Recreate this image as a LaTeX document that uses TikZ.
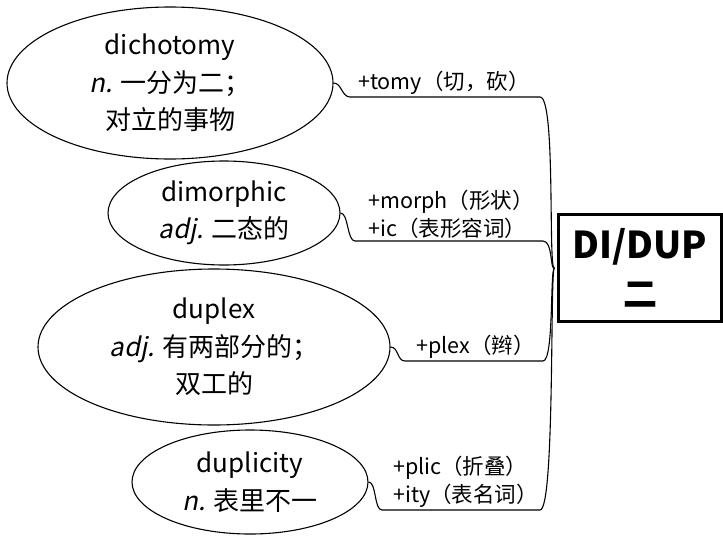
\documentclass[tikz,border=0pt]{standalone}
\usepackage{fontspec}
\setmainfont{Noto Sans CJK SC}[ItalicFont=Noto Sans CJK SC, ItalicFeatures={FakeSlant=0.2}]
\usetikzlibrary{shapes.geometric}

\begin{document}
\begin{tikzpicture}[x=1pt, y=-1pt,
    word node/.style={ellipse, draw, line width=1.1pt, inner sep=-8pt, align=center, font=\fontsize{26}{37.5}\selectfont},
    affix/.style={anchor=south west, inner sep=2pt, align=left, font=\fontsize{21.5}{28}\selectfont},
    branch/.style={line width=1.1pt}]

    \useasboundingbox (0,0) rectangle (723,536);

    % racine
    \node[draw, line width=2.4pt, minimum width=163pt, minimum height=107pt, align=center,
          font=\fontsize{37}{48}\bfseries\selectfont] (root) at (640,268)
        {DI/DUP\\{\fontsize{34}{48}\selectfont 二}};
    \coordinate (hub) at ([xshift=-3pt]root.west);

    % les mots
    \node[word node, minimum width=326pt, minimum height=152pt] (dicho) at (170,83)
        {dichotomy\\\textit{n.} 一分为二；\\对立的事物};
    \node[word node, minimum width=232pt, minimum height=104pt] (dimor) at (224,213)
        {dimorphic\\\textit{adj.} 二态的};
    \node[word node, minimum width=352pt, minimum height=156pt] (duplex) at (214,347)
        {duplex\\\textit{adj.} 有两部分的；\\双工的};
    \node[word node, minimum width=236pt, minimum height=104pt] (dupli) at (250,482)
        {duplicity\\\textit{n.} 表里不一};

    % soulignements
    \coordinate (a1) at (350,97);  \coordinate (a2) at (540,97);
    \coordinate (b1) at (355,241); \coordinate (b2) at (543,241);
    \coordinate (c1) at (405,361); \coordinate (c2) at (543,361);
    \coordinate (d1) at (382,510); \coordinate (d2) at (540,510);

    \node[affix] at ([xshift=6pt]a1) {+tomy（切，砍）};
    \node[affix] at ([xshift=11pt]b1) {+morph（形状）\\+ic（表形容词）};
    \node[affix] at ([xshift=9pt]c1) {+plex（辫）};
    \node[affix] at ([xshift=9pt]d1) {+plic（折叠）\\+ity（表名词）};

    % branches
    \draw[branch] (dicho.east) .. controls +(8,0) and +(-8,0) .. (a1) -- (a2)
        .. controls (556,97) and (548,270) .. (hub);
    \draw[branch] (dimor.east) .. controls +(8,0) and +(-8,0) .. (b1) -- (b2)
        .. controls (553,241) and (550,270) .. (hub);
    \draw[branch] (duplex.east) .. controls +(8,0) and +(-8,0) .. (c1) -- (c2)
        .. controls (554,361) and (550,270) .. (hub);
    \draw[branch] (dupli.east) .. controls +(8,0) and +(-8,0) .. (d1) -- (d2)
        .. controls (555,510) and (550,270) .. (hub);
\end{tikzpicture}
\end{document}
